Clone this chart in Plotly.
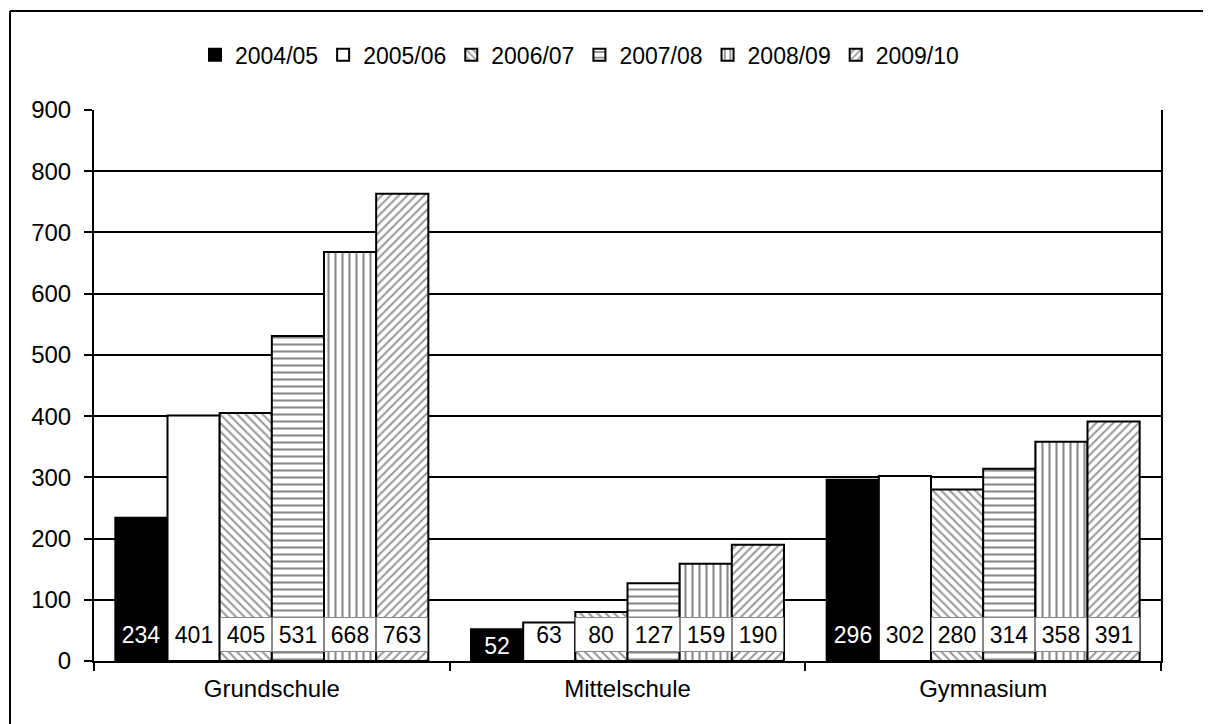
import plotly.graph_objects as go

categories = ["Grundschule", "Mittelschule", "Gymnasium"]
years = ["2004/05", "2005/06", "2006/07", "2007/08", "2008/09", "2009/10"]
v2004 = [234, 52, 296]
v2005 = [401, 63, 302]
v2006 = [405, 80, 280]
v2007 = [531, 127, 314]
v2008 = [668, 159, 358]
v2009 = [763, 190, 391]
y_ticks = [0, 100, 200, 300, 400, 500, 600, 700, 800, 900]

series = [v2004, v2005, v2006, v2007, v2008, v2009]
fills = [
    dict(color="black"),
    dict(color="white"),
    dict(color="white", pattern=dict(shape="\\", fgcolor="#333", bgcolor="white", size=6, solidity=0.35)),
    dict(color="white", pattern=dict(shape="-", fgcolor="#111", bgcolor="white", size=7, solidity=0.3)),
    dict(color="white", pattern=dict(shape="|", fgcolor="#111", bgcolor="white", size=7, solidity=0.3)),
    dict(color="white", pattern=dict(shape="/", fgcolor="#333", bgcolor="white", size=6, solidity=0.35)),
]

FONT = "Liberation Sans, Arial, sans-serif"
fig = go.Figure()
for name, vals, mk in zip(years, series, fills):
    fig.add_trace(go.Bar(
        x=categories, y=vals, name=name,
        marker=dict(line=dict(color="black", width=2), **mk),
    ))

bargap = 0.12
n = len(years)
bw = (1 - bargap) / n
annotations = []
for i, vals in enumerate(series):
    for c, v in enumerate(vals):
        xpos = c - (1 - bargap) / 2 + (i + 0.5) * bw
        common = dict(x=xpos, xref="x", yref="y", text=str(v), showarrow=False,
                      font=dict(family=FONT, size=23, color="black"),
                      width=50, height=33)
        ypos = 43 if v > 60 else 26
        if i == 0:
            common.update(font=dict(family=FONT, size=23, color="white"))
        elif i == 1:
            common.update(width=46)
        else:
            common.update(bgcolor="white", bordercolor="#888", borderwidth=1, borderpad=0)
        annotations.append(dict(y=ypos, **common))

frame = dict(color="black", width=2)
fig.update_layout(
    width=1203, height=716,
    margin=dict(l=86, r=50, t=102, b=63),
    paper_bgcolor="white", plot_bgcolor="white",
    barmode="group", bargap=bargap, bargroupgap=0,
    font=dict(family=FONT, size=24, color="black"),
    legend=dict(orientation="h", x=0.455, xanchor="center", y=1.10, yanchor="middle",
                font=dict(family=FONT, size=23), itemwidth=30, traceorder="normal",
                bgcolor="rgba(0,0,0,0)"),
    annotations=annotations,
    shapes=[
        dict(type="line", xref="paper", yref="paper", x0=-0.0787, x1=-0.0787,
             y0=-0.3, y1=1.1797, line=frame, layer="below"),
        dict(type="line", xref="paper", yref="paper", x0=-0.0787, x1=1.3,
             y0=1.1797, y1=1.1797, line=frame, layer="below"),
    ],
)
fig.update_xaxes(type="category", tickson="boundaries", ticks="outside", ticklen=8,
                 tickwidth=2, tickcolor="black", showline=True, linecolor="black",
                 linewidth=2, showgrid=False, tickfont=dict(size=24), mirror=False,
                 ticklabelstandoff=5)
fig.update_yaxes(range=[0, 900], tickvals=y_ticks, ticks="outside", ticklen=8,
                 tickwidth=2, tickcolor="black", showline=True, linecolor="black",
                 linewidth=2, mirror=True, showgrid=True, gridcolor="black",
                 gridwidth=2, zeroline=False, tickfont=dict(size=24),
                 ticklabelstandoff=8)

fig.write_html("out.html")
